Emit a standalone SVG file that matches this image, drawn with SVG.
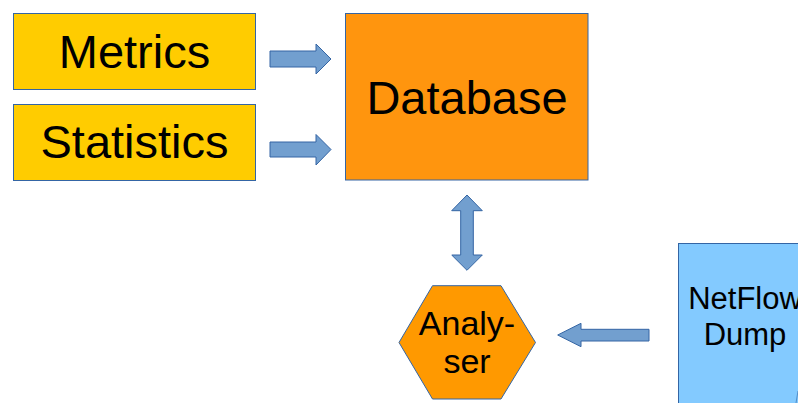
<svg xmlns="http://www.w3.org/2000/svg" width="798" height="403" viewBox="0 0 798 403">
  <style>
    .box { stroke: #3465a4; stroke-width: 1; }
    .yellow { fill: #ffcc00; }
    .db { fill: #ff950e; }
    .hex { fill: #ff9900; }
    .flow { fill: #83caff; }
    .arrow { fill: #729fcf; stroke: #3465a4; stroke-width: 1; stroke-linejoin: miter; }
    .lbl { font-family: "Liberation Sans", Arial, sans-serif; fill: #000; text-anchor: middle; }
    .big { font-size: 47px; }
    .mid { font-size: 34px; }
    .small { font-size: 31px; }
  </style>
  <rect width="798" height="403" fill="#ffffff"/>

  <g id="metrics">
    <rect class="box yellow" x="13.5" y="13.5" width="242" height="76"/>
    <text class="lbl big" x="134.5" y="68">Metrics</text>
  </g>

  <g id="statistics">
    <rect class="box yellow" x="13.5" y="104.5" width="242" height="76"/>
    <text class="lbl big" x="134.5" y="157.5">Statistics</text>
  </g>

  <g id="database">
    <rect class="box db" x="345.5" y="13.5" width="242.5" height="166.5"/>
    <text class="lbl big" x="467" y="114">Database</text>
  </g>

  <g id="analyser">
    <polygon class="box hex" points="399,342.5 432.5,285.7 501,285.7 535.5,342.5 501,399 432.5,399"/>
    <text class="lbl mid" x="467" y="335">Analy-</text>
    <text class="lbl mid" x="467" y="373.3">ser</text>
  </g>

  <g id="netflow">
    <rect class="box flow" x="678.5" y="243.5" width="130" height="170"/>
    <text class="lbl small" x="745" y="309">NetFlow</text>
    <text class="lbl small" x="745" y="345">Dump</text>
  </g>

  <g id="connectors">
    <!-- Metrics to Database -->
    <polygon class="arrow" points="270,51 316,51 316,44 331,59 316,74 316,67 270,67"/>
    <!-- Statistics to Database -->
    <polygon class="arrow" points="270,142 316,142 316,134.5 331,149.5 316,165 316,157 270,157"/>
    <!-- Database <-> Analyser -->
    <polygon class="arrow" points="467,195 482.3,210.7 473.3,210.7 473.3,255 482.3,255 467,270.3 451.7,255 460.7,255 460.7,210.7 451.7,210.7"/>
    <!-- NetFlow Dump to Analyser -->
    <polygon class="arrow" points="557.7,335 581,323.3 581,329.3 649,329.3 649,341 581,341 581,346.7"/>
    <line x1="798" y1="391" x2="796" y2="403" stroke="#3465a4" stroke-width="1" opacity="0.6"/>
  </g>
</svg>
